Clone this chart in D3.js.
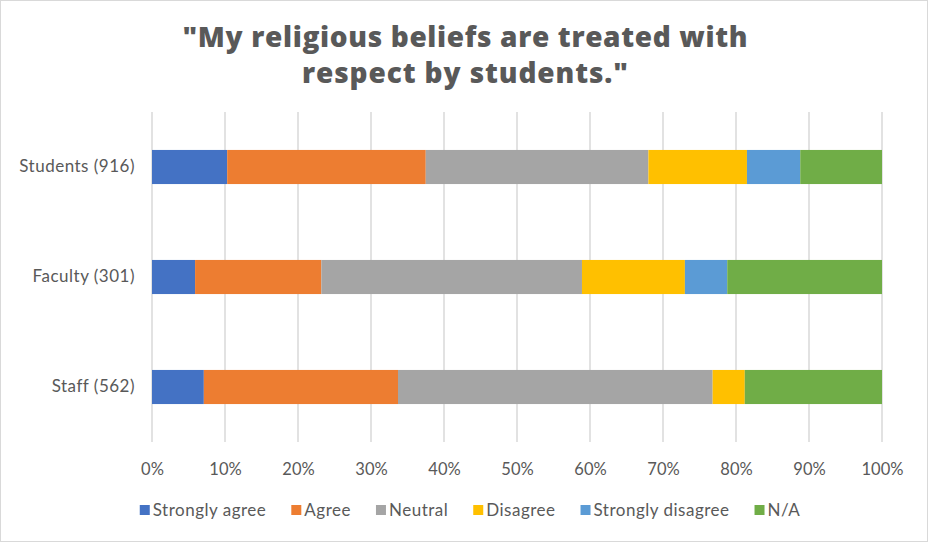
<!DOCTYPE html>
<html><head><meta charset="utf-8">
<script src="https://cdn.jsdelivr.net/npm/d3@7"></script>
<style>body{margin:0;background:#fff}svg{display:block}</style>
</head><body>
<svg id="chart" width="928" height="542"></svg>
<script>
const categories = ["Students (916)", "Faculty (301)", "Staff (562)"];
const seriesNames = ["Strongly agree", "Agree", "Neutral", "Disagree", "Strongly disagree", "N/A"];
const stronglyAgree = [10.3, 5.9, 7.1];
const agree = [27.2, 17.3, 26.6];
const neutral = [30.5, 35.7, 43.1];
const disagree = [13.5, 14.1, 4.4];
const stronglyDisagree = [7.3, 5.8, 0];
const na = [11.2, 21.2, 18.8];
const tickValues = [0, 10, 20, 30, 40, 50, 60, 70, 80, 90, 100];
const colors = ["#4472c4", "#ed7d31", "#a5a5a5", "#ffc000", "#5b9bd5", "#70ad47"];
const titleLines = ["\"My religious beliefs are treated with", "respect by students.\""];

const seriesValues = [stronglyAgree, agree, neutral, disagree, stronglyDisagree, na];
const rows = categories.map((c, i) => {
  const r = {category: c};
  seriesNames.forEach((s, j) => r[s] = seriesValues[j][i]);
  return r;
});
const stacked = d3.stack().keys(seriesNames)(rows);

const svg = d3.select("#chart");
const W = 928, H = 542;
const m = {left: 152, right: 46, top: 112, bottom: 100};
const FONT = "Lato, 'Open Sans', sans-serif";

svg.append("rect").attr("x", 0.5).attr("y", 0.5).attr("width", W - 1).attr("height", H - 1)
  .attr("fill", "#fff").attr("stroke", "#d9d9d9");

const x = d3.scaleLinear().domain([0, 100]).range([m.left, W - m.right]);
const y = d3.scaleBand().domain(categories).range([m.top, H - m.bottom]).paddingInner(0.69).paddingOuter(0.345);

// title
const titleWidths = [565, 326];
svg.append("g").selectAll("text").data(titleLines).join("text")
  .attr("x", 465).attr("y", (d, i) => 47 + i * 36)
  .attr("text-anchor", "middle")
  .attr("font-family", "'Open Sans', Lato, sans-serif").attr("font-weight", 800)
  .attr("font-size", 28).attr("fill", "#595959")
  .attr("textLength", (d, i) => titleWidths[i]).attr("lengthAdjust", "spacing")
  .text(d => d);

// gridlines
svg.append("g").selectAll("line").data(tickValues).join("line")
  .attr("x1", d => x(d)).attr("x2", d => x(d))
  .attr("y1", m.top).attr("y2", H - m.bottom)
  .attr("stroke", "#d9d9d9").attr("stroke-width", 1.5);

// bars
svg.append("g").selectAll("g").data(stacked).join("g")
  .attr("fill", (d, i) => colors[i])
  .selectAll("rect").data(d => d).join("rect")
  .attr("x", d => x(d[0])).attr("width", d => Math.max(0, x(d[1]) - x(d[0])))
  .attr("y", d => y(d.data.category)).attr("height", y.bandwidth());

// x axis
const xAxis = d3.axisBottom(x).tickValues(tickValues).tickFormat(d => d + "%").tickSize(0).tickPadding(0);
const gx = svg.append("g").attr("transform", `translate(0,${H - m.bottom})`).call(xAxis);
gx.select(".domain").remove();
gx.selectAll("text").attr("y", 33).attr("dy", 0)
  .attr("font-family", FONT).attr("font-size", 16.5).attr("fill", "#595959");

// y axis
const yAxis = d3.axisLeft(y).tickSize(0).tickPadding(0);
const gy = svg.append("g").attr("transform", `translate(${m.left - 17},0)`).call(yAxis);
gy.select(".domain").remove();
gy.selectAll("text").attr("font-family", FONT).attr("font-size", 17).attr("letter-spacing", 0.5).attr("fill", "#595959");

// legend
const lg = svg.append("g");
const items = lg.selectAll("g").data(seriesNames).join("g");
items.append("rect").attr("width", 10).attr("height", 10).attr("y", -5).attr("fill", (d, i) => colors[i]);
items.append("text").attr("x", 13).attr("dy", "0.35em")
  .attr("font-family", FONT).attr("font-size", 17).attr("letter-spacing", 0.5).attr("fill", "#595959")
  .text(d => d);
let cx = 0;
items.each(function() {
  const g = d3.select(this);
  g.attr("transform", `translate(${cx},0)`);
  cx += 13 + g.select("text").node().getComputedTextLength() + 25;
});
const totalW = cx - 25;
lg.attr("transform", `translate(${470 - totalW / 2},510)`);
</script>
</body></html>
